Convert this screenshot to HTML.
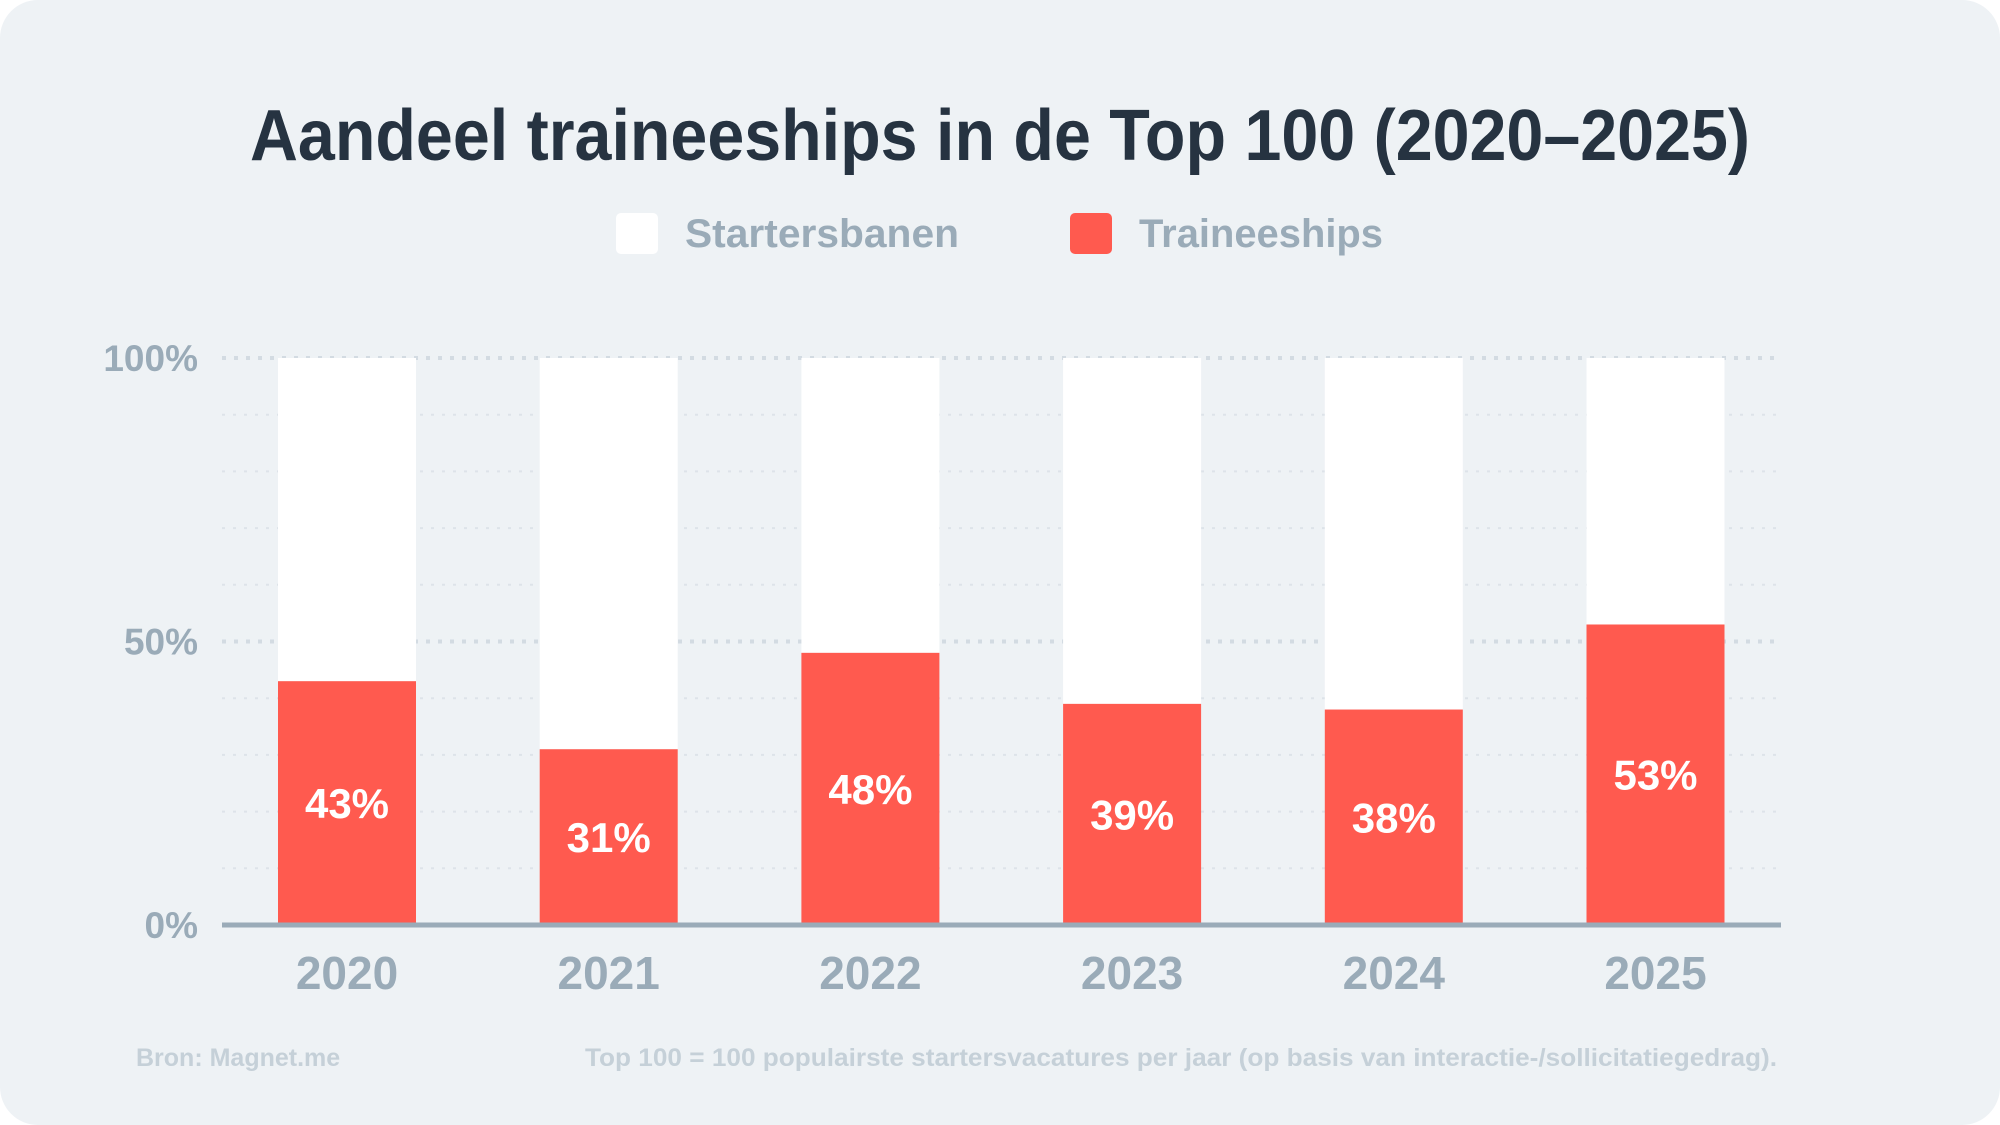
<!DOCTYPE html>
<html><head><meta charset="utf-8"><style>
html,body{margin:0;padding:0;background:#fff;}
svg{display:block;font-family:"Liberation Sans",sans-serif;}
</style></head><body>
<svg id="chart" width="2000" height="1125" viewBox="0 0 2000 1125">
<rect x="0" y="0" width="2000" height="1125" rx="38" fill="#eef2f5"/>
<text x="1000" y="160" text-anchor="middle" font-size="72" font-weight="bold" fill="#263341" textLength="1500" lengthAdjust="spacingAndGlyphs">Aandeel traineeships in de Top 100 (2020–2025)</text>
<g>
<rect x="616" y="213" width="42" height="41" rx="5" fill="#ffffff"/>
<text x="685" y="247" font-size="40" font-weight="bold" fill="#9aabb8" textLength="274" lengthAdjust="spacingAndGlyphs">Startersbanen</text>
<rect x="1070" y="213" width="42" height="41" rx="5" fill="#ff5a4f"/>
<text x="1139" y="247" font-size="40" font-weight="bold" fill="#9aabb8" textLength="244" lengthAdjust="spacingAndGlyphs">Traineeships</text>
</g>
<g id="grid"></g>
<g id="bars"></g>
<g id="axes"></g>
<text x="136" y="1066" font-size="25" font-weight="bold" fill="#c5d0d8">Bron: Magnet.me</text>
<text x="1777" y="1066" text-anchor="end" font-size="25" font-weight="bold" fill="#c5d0d8" textLength="1192" lengthAdjust="spacingAndGlyphs">Top 100 = 100 populairste startersvacatures per jaar (op basis van interactie-/sollicitatiegedrag).</text>
</svg>
<script>
const categories = ["2020","2021","2022","2023","2024","2025"];
const traineeValues = [43,31,48,39,38,53];
const yTicks = [0,50,100];
const yTickLabels = ["0%","50%","100%"];

const NS="http://www.w3.org/2000/svg";
const X0=222, X1=1781, Y0=925, Y100=358;
const step=261.7, barW=138, firstCenter=347;
const yScale=v=>Y0-(v/100)*(Y0-Y100);
const xCenter=i=>firstCenter+i*step;
function mk(tag,attrs,parent){const e=document.createElementNS(NS,tag);for(const k in attrs)e.setAttribute(k,attrs[k]);parent.appendChild(e);return e;}
const grid=document.getElementById('grid'),bars=document.getElementById('bars'),axes=document.getElementById('axes');
for(let v=10;v<=100;v+=10){
  const major=yTicks.includes(v);
  const l=mk('line',{x1:X0,x2:X1,y1:yScale(v),y2:yScale(v),stroke:major?'#d3dbe2':'#dde3e9','stroke-width':major?4:2,'stroke-dasharray':major?'4 8':'3 8'},grid);
  
  
}
categories.forEach((c,i)=>{
  const cx=xCenter(i),v=traineeValues[i];
  const w=mk('rect',{x:cx-barW/2,y:yScale(100),width:barW,height:yScale(v)-yScale(100),fill:'#ffffff'},bars);
  
  
  const r=mk('rect',{x:cx-barW/2,y:yScale(v),width:barW,height:Y0-yScale(v),fill:'#ff5a4f'},bars);
  
  
  const t=mk('text',{x:cx,y:(yScale(v)+Y0)/2+15,'text-anchor':'middle','font-size':42,'font-weight':'bold',fill:'#ffffff'},bars);
  t.textContent=v+'%';
  
  
  const cl=mk('text',{x:cx,y:989,'text-anchor':'middle','font-size':46,'font-weight':'bold',fill:'#9aabb8'},axes);
  cl.textContent=c;
  
  
});
const ax=mk('line',{x1:X0,x2:X1,y1:Y0,y2:Y0,stroke:'#9aabb8','stroke-width':5},axes);


yTicks.forEach((v,i)=>{
  const t=mk('text',{x:198,y:yScale(v)+13,'text-anchor':'end','font-size':37,'font-weight':'bold',fill:'#9aabb8'},axes);
  t.textContent=yTickLabels[i];
  
  
});
</script>
</body></html>
